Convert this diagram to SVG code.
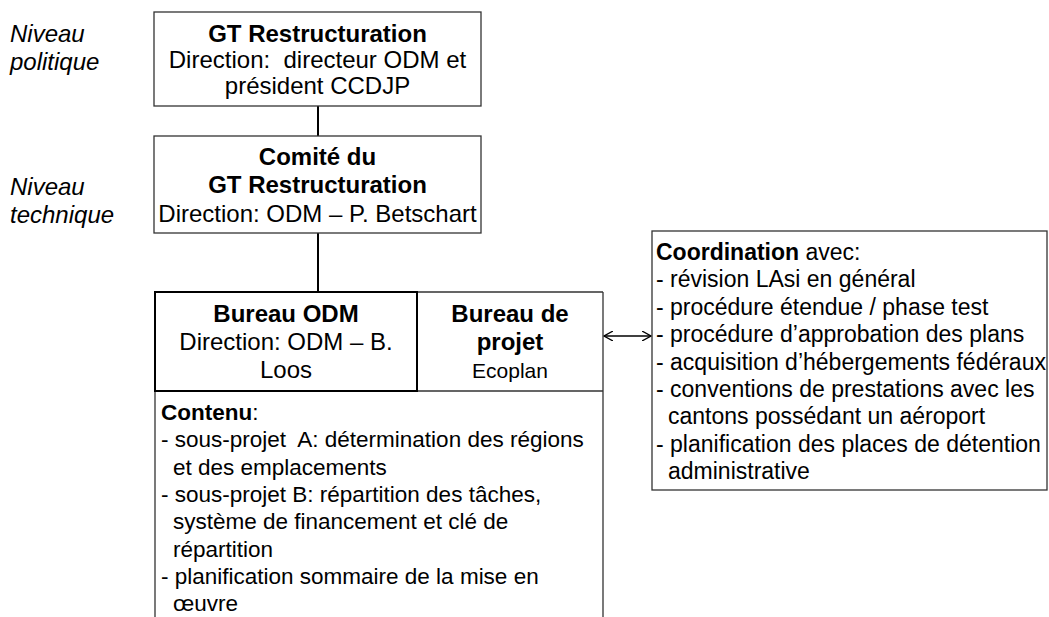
<svg xmlns="http://www.w3.org/2000/svg" width="1049" height="617" viewBox="0 0 1049 617">
<style>
text{font-family:"Liberation Sans",Arial,sans-serif;fill:#000}
.lvl{font-size:24px;font-style:italic}
.t{font-size:24px;text-anchor:middle}
.b{font-weight:bold}
.l{font-size:22.5px}
.c{font-size:23px}
.box{fill:#fff;stroke:#333;stroke-width:1.3}
.conn{stroke:#000;stroke-width:2;fill:none}
</style>
<defs>
<marker id="ah" viewBox="0 0 10 10" refX="9" refY="5" markerWidth="10" markerHeight="10" markerUnits="userSpaceOnUse" orient="auto-start-reverse">
<path d="M0,0 L9,5 L0,10" fill="none" stroke="#000" stroke-width="1.3"/>
</marker>
</defs>
<g id="labels">
<text class="lvl" x="10" y="42">Niveau</text>
<text class="lvl" x="10" y="70">politique</text>
<text class="lvl" x="10" y="195">Niveau</text>
<text class="lvl" x="10" y="223">technique</text>
</g>
<g id="connectors">
<line class="conn" x1="318" y1="106" x2="318" y2="136"/>
<line class="conn" x1="318" y1="233" x2="318" y2="292"/>
<line x1="604" y1="336" x2="651" y2="336" stroke="#000" stroke-width="1.3" marker-start="url(#ah)" marker-end="url(#ah)"/>
</g>
<g id="gt">
<rect class="box" x="154" y="12" width="327" height="94"/>
<text class="t b" x="317.5" y="42">GT Restructuration</text>
<text class="t" x="317.5" y="68" xml:space="preserve">Direction:  directeur ODM et</text>
<text class="t" x="317.5" y="94">président CCDJP</text>
</g>
<g id="comite">
<rect class="box" x="154" y="136" width="327" height="97"/>
<text class="t b" x="317.5" y="165">Comité du</text>
<text class="t b" x="317.5" y="193">GT Restructuration</text>
<text class="t" x="317.5" y="222">Direction: ODM – P. Betschart</text>
</g>
<g id="contenu">
<path d="M155,391 L155,625 M603,292 L603,625" stroke="#333" stroke-width="1.3" fill="none"/>
<text class="l" x="161" y="420"><tspan class="b">Contenu</tspan>:</text>
<text class="l" x="161" y="447.3" xml:space="preserve">- sous-projet  A: détermination des régions</text>
<text class="l" x="173" y="474.6">et des emplacements</text>
<text class="l" x="161" y="501.9">- sous-projet B: répartition des tâches,</text>
<text class="l" x="173" y="529.2">système de financement et clé de</text>
<text class="l" x="173" y="556.5">répartition</text>
<text class="l" x="161" y="583.8">- planification sommaire de la mise en</text>
<text class="l" x="173" y="611">œuvre</text>
</g>
<g id="projet">
<path d="M417,292 L603,292 M417,391 L603,391" stroke="#333" stroke-width="1.3" fill="none"/>
<text class="t b" x="510" y="322">Bureau de</text>
<text class="t b" x="510" y="350">projet</text>
<text class="t" x="510" y="378" style="font-size:21px">Ecoplan</text>
</g>
<g id="odm">
<rect x="155" y="292" width="262" height="99" fill="none" stroke="#000" stroke-width="2"/>
<text class="t b" x="286" y="322">Bureau ODM</text>
<text class="t" x="286" y="350">Direction: ODM – B.</text>
<text class="t" x="286" y="378">Loos</text>
</g>
<g id="coord">
<rect class="box" x="652" y="231" width="395" height="259"/>
<text class="c" x="656" y="260"><tspan class="b">Coordination</tspan> avec:</text>
<text class="c" x="656" y="287.4">- révision LAsi en général</text>
<text class="c" x="656" y="314.8">- procédure étendue / phase test</text>
<text class="c" x="656" y="342.2">- procédure d’approbation des plans</text>
<text class="c" x="656" y="369.6">- acquisition d’hébergements fédéraux</text>
<text class="c" x="656" y="397">- conventions de prestations avec les</text>
<text class="c" x="668" y="424.4">cantons possédant un aéroport</text>
<text class="c" x="656" y="451.8">- planification des places de détention</text>
<text class="c" x="668" y="479.2">administrative</text>
</g>
</svg>
